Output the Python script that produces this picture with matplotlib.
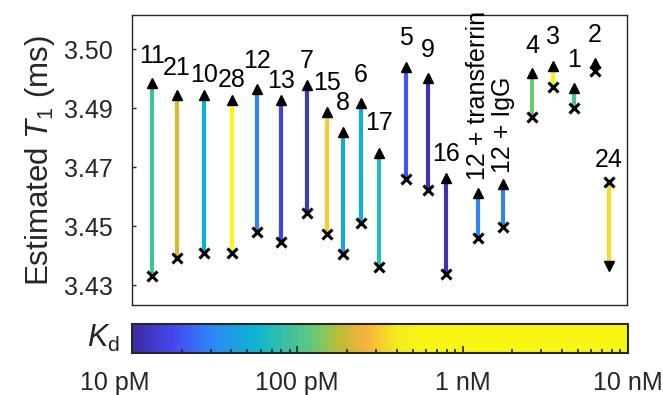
import numpy as np
import matplotlib
matplotlib.use("Agg")
import matplotlib.pyplot as plt
import matplotlib.colors as mcolors
import matplotlib.transforms as mtransforms
from matplotlib import rcParams

# data: one arrow per compound, x marker = start, triangle = end
labels = ["11", "21", "10", "28", "12", "13", "7", "15", "8", "6", "17",
          "5", "9", "16", "12 + transferrin", "12 + IgG", "4", "3", "1", "2", "24"]
x_pos = [4.0, 9.1, 14.5, 20.2, 25.3, 30.1, 35.4, 39.4, 42.6, 46.3, 49.9,
         55.4, 59.8, 63.4, 69.9, 74.9, 80.8, 85.1, 89.3, 93.5, 96.4]
t1_start = [3.4352, 3.4405, 3.4420, 3.4420, 3.4482, 3.4453, 3.4539, 3.4476,
            3.4417, 3.4509, 3.4378, 3.4640, 3.4607, 3.4358, 3.4465, 3.4497,
            3.4824, 3.4913, 3.4851, 3.4961, 3.4631]
t1_end = [3.4925, 3.4889, 3.4889, 3.4875, 3.4907, 3.4875, 3.4919, 3.4839,
          3.4779, 3.4866, 3.4717, 3.4973, 3.4940, 3.4643, 3.4598, 3.4625,
          3.4955, 3.4975, 3.4910, 3.4984, 3.4381]
kd_pM = [91, 216, 52, 724, 30, 16, 13, 316, 46, 52, 74,
         20, 11.5, 11.5, 30, 30, 129, 891, 98, 1259, 363]

y_ticks = [3.4325, 3.45, 3.4675, 3.485, 3.5025]
y_ticklabels = ["3.43", "3.45", "3.47", "3.49", "3.50"]
cb_ticks = [10, 100, 1000, 10000]
cb_ticklabels = ["10 pM", "100 pM", "1 nM", "10 nM"]

# label offsets above the upper end (points)
label_dy = [20, 20, 13, 13, 21, 12, 17, 22, 22, 21, 23,
            22, 21, 17, 13, 11, 20, 22, 21, 21, 15]

config = {
    "font.family": ["Liberation Sans", "DejaVu Sans"],
    "font.size": 18,
    "mathtext.fontset": "custom",
    "mathtext.rm": "Liberation Sans",
    "mathtext.it": "Liberation Sans:italic",
}
rcParams.update(config)

cmap = mcolors.LinearSegmentedColormap.from_list("kd", [
    (0.00, "#3b2b9e"), (0.08, "#4646ef"), (0.16, "#2c87f6"),
    (0.25, "#0cb6cf"), (0.36, "#5ec97c"), (0.42, "#bfbd35"),
    (0.47, "#f6b13f"), (0.53, "#f4e81f"), (0.58, "#f8f713"),
    (1.00, "#f8f713")])
norm = mcolors.LogNorm(vmin=10, vmax=10000)

fig = plt.figure(figsize=[6.63, 3.95], dpi=100)
ax = fig.add_axes([0.199, 0.2278, 0.7466, 0.734])

for i in range(len(labels)):
    c = cmap(norm(kd_pM[i]))
    ax.plot([x_pos[i], x_pos[i]], [t1_start[i], t1_end[i]], color=c, lw=3,
            solid_capstyle="butt", zorder=2)
    ax.plot(x_pos[i], t1_start[i], marker="x", color="k", ms=6.5, mew=2.2, zorder=3)
    mk = "^" if t1_end[i] > t1_start[i] else "v"
    ax.plot(x_pos[i], t1_end[i], marker=mk, color="k", ms=7.5, zorder=3)
    top = max(t1_start[i], t1_end[i])
    dy = label_dy[i] * 0.72
    if "+" in labels[i]:
        ax.annotate(labels[i], (x_pos[i], top), xytext=(0, dy), textcoords="offset points",
                    ha="center", va="bottom", rotation=90, fontsize=18)
    else:
        ax.annotate(labels[i], (x_pos[i], top), xytext=(0, dy), textcoords="offset points",
                    ha="center", va="baseline", fontsize=18)

ax.set_xlim(0, 100)
ax.set_ylim(3.4266, 3.5127)
ax.set_xticks([])
ax.set_yticks(y_ticks)
ax.set_yticklabels(y_ticklabels)
ax.tick_params(axis="y", direction="in", length=3, width=1, pad=14, colors="#262626",
               labelcolor="#262626")
for s in ax.spines.values():
    s.set_color("#262626")
    s.set_linewidth(1)
ax.set_ylabel(r"Estimated $T_1$ (ms)", fontsize=22.5, color="#262626", labelpad=5)

# colorbar
cax = fig.add_axes([0.199, 0.1063, 0.748, 0.0734])
cb = matplotlib.colorbar.ColorbarBase(cax, cmap=cmap, norm=norm, orientation="horizontal")
cb.outline.set_linewidth(1.5)
cb.outline.set_edgecolor("#262626")
cb.set_ticks(cb_ticks)
cb.set_ticklabels(cb_ticklabels)
minor = [m * d for d in [10, 100, 1000] for m in range(2, 10)]
cax.set_xticks(minor, minor=True)
cax.set_xticklabels([], minor=True)
cax.tick_params(axis="x", which="major", direction="in", length=5, width=1.2, pad=13,
                labelsize=18, colors="#262626")
cax.tick_params(axis="x", which="minor", direction="in", length=3, width=1.2, colors="#262626")
lbl0 = cax.get_xticklabels()[0]
lbl0.set_transform(lbl0.get_transform() + mtransforms.ScaledTranslation(-0.17, 0, fig.dpi_scale_trans))
cax.text(-0.025, 0.5, r"$K_\mathrm{d}$", transform=cax.transAxes, ha="right", va="center",
         fontsize=22, color="#262626")

plt.savefig("out.png", dpi=100)
